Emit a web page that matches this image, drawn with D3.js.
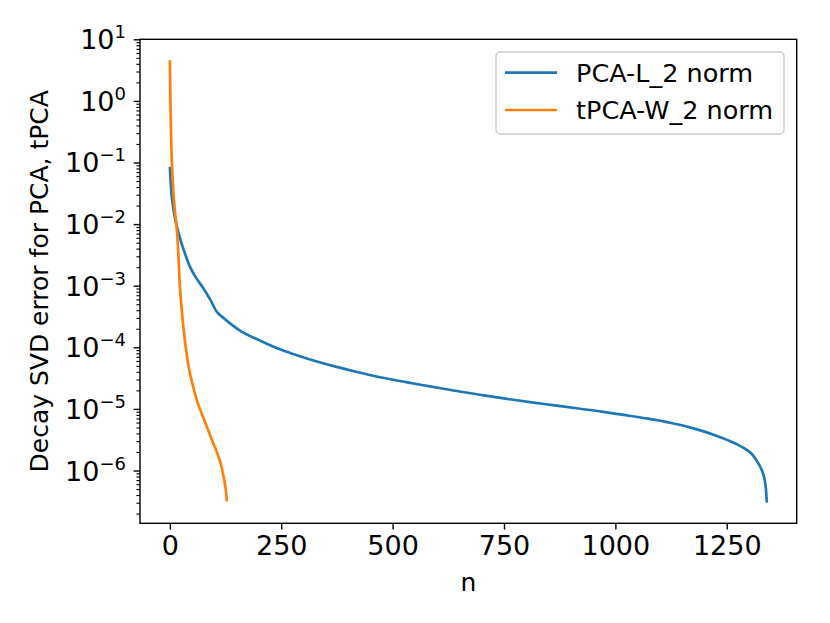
<!DOCTYPE html>
<html>
<head>
<meta charset="utf-8">
<script src="https://cdn.jsdelivr.net/npm/d3@7"></script>
<style>
  body { margin: 0; background: #fff; }
  svg { font-family: "DejaVu Sans", sans-serif; }
</style>
</head>
<body>
<div id="chart"></div>
<script>
// Series
var pcaN = [0, 3, 7, 12, 18, 24, 35, 45, 58, 74, 91, 105, 120, 135, 160,
  187, 220, 250, 290, 330, 370, 420, 472, 530, 584, 640, 696, 750, 808, 860, 921, 970, 1011,
  1070, 1123, 1165, 1198, 1230, 1258, 1280, 1295, 1308, 1317, 1325, 1331, 1335, 1338, 1340];
var pcaErr = [0.0851, 0.0355, 0.0200, 0.0120, 0.00794, 0.00550, 0.00316, 0.00204, 0.00138, 0.000933,
  0.000589, 0.000380, 0.000302, 0.000245, 0.000182,
  1.445e-4, 1.122e-4, 9.12e-5, 7.24e-5, 5.89e-5, 4.90e-5, 3.98e-5, 3.27e-5, 2.72e-5, 2.32e-5,
  1.97e-5, 1.70e-5, 1.48e-5, 1.29e-5, 1.15e-5, 1.005e-5, 9.02e-6, 8.13e-6,
  7.00e-6, 5.96e-6, 5.07e-6, 4.32e-6, 3.59e-6, 2.99e-6, 2.51e-6, 2.16e-6, 1.80e-6, 1.45e-6,
  1.15e-6, 9.12e-7, 7.08e-7, 4.90e-7, 3.02e-7];

var tpcaN = [0, 1, 2, 3, 4, 6, 8, 10, 13, 16, 19, 22, 25, 28, 32, 36, 40, 45, 50, 56, 62, 68, 75,
  82, 90, 97, 104, 110, 115, 119, 122, 124, 126, 127, 128];
var tpcaErr = [4.57, 1.41, 0.501, 0.240, 0.126, 0.0603, 0.0331, 0.0209, 0.0126, 0.00759, 0.00331,
  0.00112, 0.000562, 0.000316, 0.000166, 9.55e-5, 6.03e-5, 3.80e-5, 2.69e-5, 1.82e-5, 1.29e-5,
  9.77e-6, 7.24e-6, 5.37e-6, 3.80e-6, 2.82e-6, 2.14e-6, 1.62e-6, 1.23e-6, 9.12e-7, 7.08e-7,
  5.75e-7, 4.57e-7, 3.89e-7, 3.16e-7];

var xTicks = [0, 250, 500, 750, 1000, 1250];
var yExponents = [1, 0, -1, -2, -3, -4, -5, -6];
var seriesNames = ["PCA-L_2 norm", "tPCA-W_2 norm"];

// Size and margins
var svgWidth = 830;
var svgHeight = 623;
var margin = { top: 39.3, right: 33.3, bottom: 99.7, left: 140 };
var width = svgWidth - margin.left - margin.right;
var height = svgHeight - margin.top - margin.bottom;

var svg = d3.select("#chart")
  .append("svg")
  .attr("width", svgWidth)
  .attr("height", svgHeight);

var chartGroup = svg.append("g")
  .attr("transform", `translate(${margin.left}, ${margin.top})`);

// Scales
var xScale = d3.scaleLinear()
  .domain([-67, 1407])
  .range([0, width]);

var yScale = d3.scaleLog()
  .domain([1.39e-7, 10])
  .range([height, 0]);

// Minor ticks: 2..9 for every decade in range
var minorTicks = [];
yExponents.concat([-7]).forEach(function (e) {
  for (var k = 2; k <= 9; k++) {
    var v = k * Math.pow(10, e);
    if (v >= yScale.domain()[0] && v <= yScale.domain()[1]) minorTicks.push(v);
  }
});

// Axes
var bottomAxis = d3.axisBottom(xScale)
  .tickValues(xTicks)
  .tickSize(6.3)
  .tickPadding(6)
  .tickFormat(d3.format("d"));

var xAxisG = chartGroup.append("g")
  .attr("transform", `translate(0, ${height})`)
  .call(bottomAxis);
xAxisG.select(".domain").remove();
xAxisG.selectAll(".tick line").attr("stroke", "#000").attr("stroke-width", 1.4);
xAxisG.selectAll(".tick text")
  .attr("font-size", "27px")
  .attr("font-family", "DejaVu Sans")
  .attr("fill", "#000");

var leftMinor = d3.axisLeft(yScale)
  .tickValues(minorTicks)
  .tickSize(3.6)
  .tickFormat("");
var yMinorG = chartGroup.append("g").call(leftMinor);
yMinorG.select(".domain").remove();
yMinorG.selectAll(".tick line").attr("stroke", "#000").attr("stroke-width", 1.1);

var leftAxis = d3.axisLeft(yScale)
  .tickValues(yExponents.map(function (e) { return Math.pow(10, e); }))
  .tickSize(6.3)
  .tickFormat("");
var yAxisG = chartGroup.append("g").call(leftAxis);
yAxisG.select(".domain").remove();
yAxisG.selectAll(".tick line").attr("stroke", "#000").attr("stroke-width", 1.4);

// y tick labels as 10 with superscript exponent
yExponents.forEach(function (e) {
  var t = chartGroup.append("text")
    .attr("x", -14)
    .attr("y", yScale(Math.pow(10, e)) + 10)
    .attr("text-anchor", "end")
    .attr("font-size", "27px")
    .attr("fill", "#000");
  t.append("tspan").text("10");
  t.append("tspan")
    .attr("font-size", "18px")
    .attr("dy", -11)
    .text(e < 0 ? "\u2212" + (-e) : String(e));
});

// Lines
var line = d3.line()
  .curve(d3.curveMonotoneX)
  .x(d => xScale(d[0]))
  .y(d => yScale(d[1]));

var pcaData = pcaN.map((n, i) => [n, pcaErr[i]]);
var tpcaData = tpcaN.map((n, i) => [n, tpcaErr[i]]);
var colors = ["#1f77b4", "#ff7f0e"];

chartGroup.append("path")
  .datum(pcaData)
  .attr("d", line)
  .attr("fill", "none")
  .attr("stroke", colors[0])
  .attr("stroke-width", 2.7)
  .attr("stroke-linejoin", "round");

chartGroup.append("path")
  .datum(tpcaData)
  .attr("d", line)
  .attr("fill", "none")
  .attr("stroke", colors[1])
  .attr("stroke-width", 2.7)
  .attr("stroke-linejoin", "round");

// Frame
chartGroup.append("rect")
  .attr("width", width)
  .attr("height", height)
  .attr("fill", "none")
  .attr("stroke", "#000")
  .attr("stroke-width", 1.4);

// Legend
var legend = svg.append("g");
legend.append("rect")
  .attr("x", 496)
  .attr("y", 52)
  .attr("width", 288)
  .attr("height", 82)
  .attr("rx", 4)
  .attr("fill", "#fff")
  .attr("fill-opacity", 0.8)
  .attr("stroke", "#ccc")
  .attr("stroke-width", 1.4);

seriesNames.forEach(function (name, i) {
  var cy = 72.7 + i * 37.3;
  legend.append("line")
    .attr("x1", 505).attr("x2", 557)
    .attr("y1", cy).attr("y2", cy)
    .attr("stroke", colors[i])
    .attr("stroke-width", 2.7);
  legend.append("text")
    .attr("x", 576)
    .attr("y", cy + 9)
    .attr("font-size", "25.5px")
    .attr("fill", "#000")
    .text(name);
});

// Axis labels
svg.append("text")
  .attr("transform", `translate(48, ${margin.top + height / 2}) rotate(-90)`)
  .attr("text-anchor", "middle")
  .attr("font-size", "25px")
  .attr("fill", "#000")
  .text("Decay SVD error for PCA, tPCA");

svg.append("text")
  .attr("x", margin.left + width / 2)
  .attr("y", 591)
  .attr("text-anchor", "middle")
  .attr("font-size", "25px")
  .attr("fill", "#000")
  .text("n");
</script>
</body>
</html>
